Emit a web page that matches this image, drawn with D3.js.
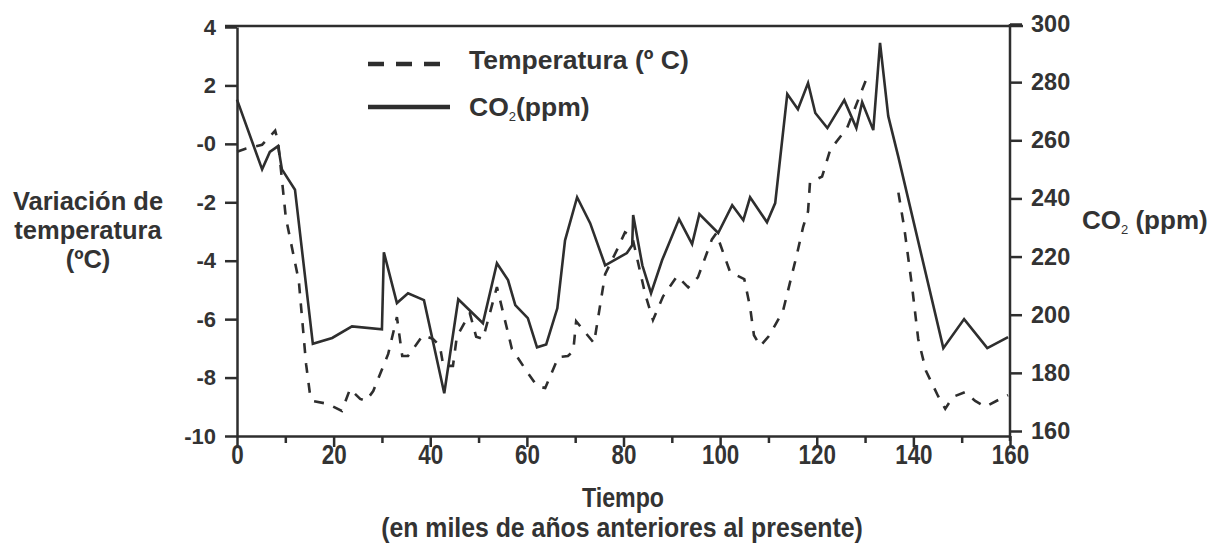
<!DOCTYPE html>
<html>
<head>
<meta charset="utf-8">
<script src="https://cdn.jsdelivr.net/npm/d3@7"></script>
<style>
	body { margin: 0; background: #fff; }
	text { font-family: 'Liberation Sans', Arial, sans-serif; font-weight: bold; fill: #333; }
</style>
</head>
<body>
<script>
const w = 1214;
const h = 547;

// temperatura (variación, ºC) – miles de años antes del presente
const tempTime = [0, 1.9, 5.2, 7.9, 8.5, 10.1, 12.8, 14.3, 15.1, 15.7, 18.8, 21.7, 23.4, 25.5, 26.7, 28.2, 31.3, 33.1, 34.2, 35.4,
	38.5, 40.6, 42.0, 42.7, 44.7, 45.5, 48.2, 49.5, 50.9, 53.8, 56.9, 60.2, 62.1, 63.8, 66.5, 68.5, 69.6, 70.2, 72.0, 73.9,
	76.2, 78.7, 80.3, 81.8, 84.5, 86.1, 88.2, 91.1, 93.4, 95.4, 98.3, 99.2, 102.1, 102.9, 105.0, 106.2, 107.0, 108.3, 110.1, 113.0,
	115.9, 117.2, 118.2, 118.6, 121.1, 122.8, 126.3, 130.2, 133.0, 136.9, 138.1, 139.8, 141.0, 142.6, 145.1, 146.6, 148.2, 150.7, 152.8, 154.9,
	158.0, 159.6];
const tempVal = [-0.27, -0.16, -0.03, 0.45, 0.08, -2.52, -4.7, -7.54, -8.56, -8.8, -8.9, -9.14, -8.39, -8.73, -8.8, -8.46, -7.19, -5.93, -7.26, -7.26,
	-6.55, -6.68, -6.92, -7.6, -7.6, -6.6, -5.8, -6.6, -6.68, -4.9, -7.02, -7.84, -8.29, -8.36, -7.3, -7.26, -7.09, -6.07, -6.44, -6.82,
	-4.46, -3.61, -3.03, -3.17, -5.15, -6.03, -5.22, -4.53, -4.91, -4.57, -3.27, -3.06, -4.4, -4.46, -4.63, -5.59, -6.55, -6.92, -6.58, -5.73,
	-3.78, -2.83, -2.31, -1.32, -1.12, -0.2, 0.55, 2.19, null, -1.67, -2.86, -4.98, -6.68, -7.77, -8.63, -9.07, -8.66, -8.5, -8.8, -9.0,
	-8.73, -8.6];

// CO2 (ppm)
const co2Time = [0, 5.2, 6.8, 8.5, 9.3, 12.0, 15.7, 19.7, 23.8, 30.0, 30.4, 33.1, 35.4, 38.7, 42.9, 45.8, 50.9, 53.8, 56.1, 57.6,
	60.2, 62.1, 64.0, 66.3, 67.9, 70.4, 73.1, 76.2, 80.7, 81.8, 82.0, 83.9, 85.7, 88.0, 91.5, 94.2, 95.7, 99.6, 102.5, 104.8,
	106.2, 109.7, 111.4, 113.9, 116.1, 118.2, 119.7, 122.2, 125.7, 128.2, 129.4, 131.7, 133.1, 134.8, 136.9, 146.2, 150.5, 155.3, 159.6];
const co2Val = [274, 250, 256, 258, 250, 243, 190, 192, 196, 195, 221.5, 204, 207.4, 205, 173, 205.3, 197.1, 217.7, 211.9, 203.3,
	198.8, 188.8, 189.8, 202.2, 225.6, 240.4, 231.5, 217, 221.2, 223.9, 234.3, 217, 207.4, 218.8, 232.9, 224.3, 234.6, 228.1, 237.7, 232.5,
	240.4, 231.8, 238.4, 275.9, 270.7, 279.7, 269.4, 264.2, 273.8, 264.2, 273.1, 263.5, 293.5, 268.3, 254.2, 188.5, 198.5, 188.5, 192.3];

const leftTicks = [4, 2, 0, -2, -4, -6, -8, -10];
const rightTicks = [300, 280, 260, 240, 220, 200, 180, 160];
const xTicks = [0, 10, 20, 30, 40, 50, 60, 70, 80, 90, 100, 110, 120, 130, 140, 150, 160];

const ink = '#2e2e2e';

const x = d3.scaleLinear().domain([0, 160]).range([237, 1010]);
const yL = d3.scaleLinear().domain([-10, 4]).range([436, 27]);
const yR = d3.scaleLinear().domain([160, 300]).range([431, 24]);

const svg = d3.select('body').append('svg').attr('width', w).attr('height', h);

// top frame line
svg.append('line')
	.attr('x1', 225).attr('x2', 1023)
	.attr('y1', 26).attr('y2', 26)
	.attr('stroke', ink).attr('stroke-width', 2.5);

// left axis
const gL = svg.append('g').attr('transform', 'translate(' + x(0) + ',0)')
	.call(d3.axisLeft(yL).tickValues(leftTicks).tickSize(12).tickSizeOuter(0).tickPadding(9)
		.tickFormat(function(d) { return d === 0 ? '-0' : d; }));

// right axis
const gR = svg.append('g').attr('transform', 'translate(' + x(160) + ',0)')
	.call(d3.axisRight(yR).tickValues(rightTicks).tickSize(12).tickSizeOuter(0).tickPadding(9));

// bottom axis
const gB = svg.append('g').attr('transform', 'translate(0,' + yL(-10) + ')')
	.call(d3.axisBottom(x).tickValues(xTicks).tickSize(11).tickSizeOuter(0)
		.tickFormat(function(d) { return d % 20 === 0 ? d : ''; }));

gB.selectAll('.tick line').attr('y2', function(d) { return d % 20 === 0 ? 11 : 7; });
gB.selectAll('.tick text')
	.attr('y', 8)
	.attr('transform', 'scale(0.8,1)')
	.style('font-size', '28px');

[gL, gR, gB].forEach(function(g) {
	g.select('.domain').attr('stroke', ink).attr('stroke-width', 2.5);
	g.selectAll('.tick line').attr('stroke', ink).attr('stroke-width', 2.5);
	g.selectAll('text').attr('fill', '#333');
});
gL.selectAll('.tick text').style('font-size', '22px');
gR.selectAll('.tick text').style('font-size', '23.5px');
// extend the right axis a bit below, like the original
gR.select('.domain').attr('d', 'M0,24V441');

// lines
const tempLine = d3.line()
	.defined(function(d) { return d[1] !== null; })
	.x(function(d) { return x(d[0]); })
	.y(function(d) { return yL(d[1]); });

const co2Line = d3.line()
	.x(function(d) { return x(d[0]); })
	.y(function(d) { return yR(d[1]); });

svg.append('path')
	.datum(tempTime.map(function(t, i) { return [t, tempVal[i]]; }))
	.attr('d', tempLine)
	.attr('fill', 'none')
	.attr('stroke', ink)
	.attr('stroke-width', 2.6)
	.attr('stroke-dasharray', '10,10');

svg.append('path')
	.datum(co2Time.map(function(t, i) { return [t, co2Val[i]]; }))
	.attr('d', co2Line)
	.attr('fill', 'none')
	.attr('stroke', ink)
	.attr('stroke-width', 2.6)
	.attr('stroke-linejoin', 'miter');

// legend
svg.append('line')
	.attr('x1', 368).attr('x2', 441).attr('y1', 64).attr('y2', 64)
	.attr('stroke', ink).attr('stroke-width', 4.5).attr('stroke-dasharray', '16,12');
svg.append('line')
	.attr('x1', 368).attr('x2', 450).attr('y1', 107).attr('y2', 107)
	.attr('stroke', ink).attr('stroke-width', 4.5);
svg.append('text').attr('x', 469).attr('y', 69).style('font-size', '26.5px').text('Temperatura (º C)');
const co2Leg = svg.append('text').attr('x', 469).attr('y', 116).style('font-size', '26.5px');
co2Leg.append('tspan').text('CO');
co2Leg.append('tspan').attr('dy', 5).style('font-size', '13px').style('font-weight', 'normal').text('2');
co2Leg.append('tspan').attr('dy', -5).text('(ppm)');

// left title
const leftTitle = ['Variación de', 'temperatura', '(ºC)'];
svg.selectAll('.ltitle')
	.data(leftTitle)
	.enter()
	.append('text')
	.attr('class', 'ltitle')
	.attr('x', 88)
	.attr('y', function(d, i) { return 210 + i * 29; })
	.attr('text-anchor', 'middle')
	.style('font-size', '25.5px')
	.text(function(d) { return d; });

// right title
const rTitle = svg.append('text').attr('x', 1082).attr('y', 229).style('font-size', '26px');
rTitle.append('tspan').text('CO');
rTitle.append('tspan').attr('dy', 5).style('font-size', '13px').style('font-weight', 'normal').text('2');
rTitle.append('tspan').attr('dy', -5).text(' (ppm)');

// bottom titles (narrow)
svg.append('g').attr('transform', 'translate(623,507) scale(0.86,1)')
	.append('text').attr('text-anchor', 'middle').style('font-size', '27px').text('Tiempo');
svg.append('g').attr('transform', 'translate(622,537) scale(0.92,1)')
	.append('text').attr('text-anchor', 'middle').style('font-size', '27px').text('(en miles de años anteriores al presente)');
</script>
</body>
</html>
